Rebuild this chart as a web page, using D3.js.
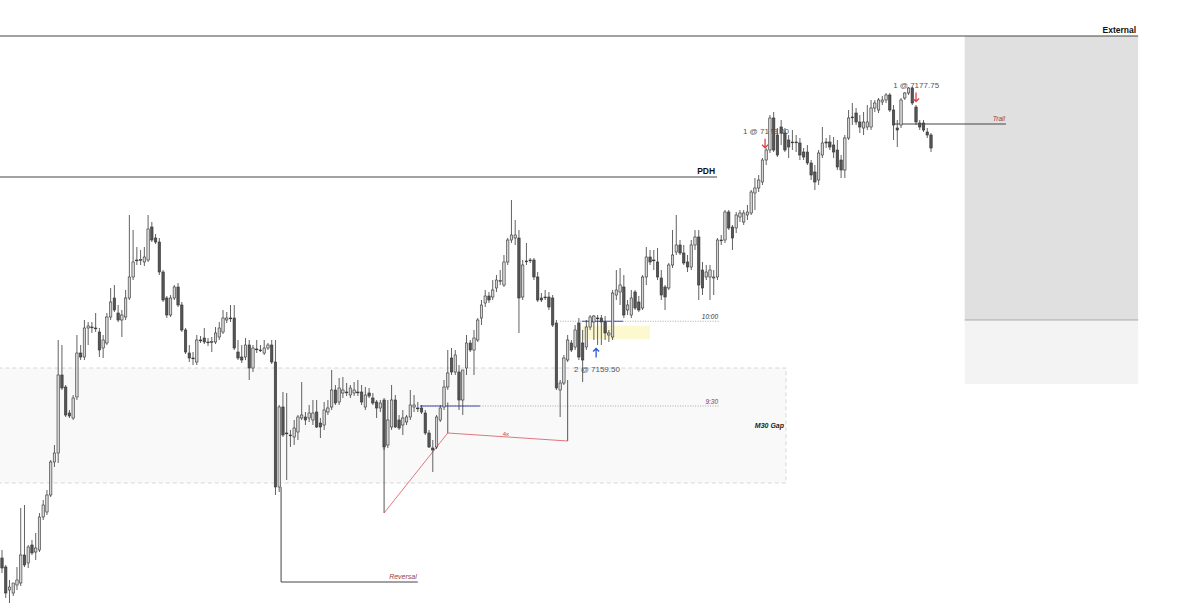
<!DOCTYPE html>
<meta charset="utf-8">
<style>
body { margin: 0; background: #fff; }
text { font-family: "Liberation Sans", Arial, sans-serif; }
</style>
<svg width="1200" height="612"></svg>
<script src="https://d3js.org/d3.v7.min.js"></script>
<script>

// one-minute bars, oldest first
var opens = [7140.56,7139.84,7138.0,7137.76,7138.4,7138.56,7140.8,7140.16,7141.6,7141.04,
7141.2,7143.84,7144.24,7145.6,7148.24,7148.96,7155.2,7154.24,7152.16,7151.76,
7153.44,7156.96,7156.64,7158.96,7159.04,7158.96,7158.64,7157.36,7157.76,7159.84,
7161.36,7160.16,7159.6,7159.84,7161.36,7163.04,7164.4,7164.4,7164.24,7164.4,
7167.04,7166.16,7165.84,7163.44,7161.36,7160.0,7161.36,7162.24,7160.8,7158.8,
7156.96,7156.56,7156.24,7158.0,7158.16,7157.84,7157.84,7157.84,7158.24,7158.64,
7159.6,7159.76,7159.76,7157.04,7156.64,7156.64,7157.6,7155.76,7157.28,7157.2,
7156.96,7157.36,7157.6,7156.24,7146.24,7152.64,7150.56,7150.4,7150.24,7150.64,
7151.76,7151.84,7151.76,7151.6,7152.24,7151.36,7151.2,7152.24,7152.64,7154.0,
7153.04,7153.76,7153.84,7153.6,7153.76,7153.84,7153.84,7152.64,7153.76,7153.36,
7153.04,7152.56,7153.2,7149.6,7151.04,7153.2,7151.6,7151.2,7151.44,7151.84,
7152.64,7152.56,7152.56,7152.16,7150.56,7149.36,7149.44,7151.6,7152.64,7154.24,
7156.56,7155.44,7155.44,7153.2,7155.76,7157.76,7157.2,7158.0,7159.76,7160.96,
7161.52,7161.44,7162.16,7162.72,7162.4,7164.24,7166.0,7166.16,7166.16,7161.44,
7164.32,7164.4,7164.4,7163.04,7161.36,7161.44,7161.44,7161.36,7159.36,7154.0,
7154.56,7156.4,7157.76,7157.44,7159.36,7157.76,7157.44,7159.04,7159.44,7159.76,
7159.76,7159.44,7158.4,7158.24,7161.6,7161.84,7162.24,7160.4,7160.0,7161.84,
7161.04,7160.56,7163.04,7164.64,7164.4,7164.24,7162.96,7162.24,7162.16,7164.0,
7165.04,7165.6,7164.96,7164.24,7163.84,7165.6,7166.24,7163.6,7163.04,7163.04,
7162.96,7163.04,7166.0,7166.0,7168.24,7167.04,7166.96,7167.84,7167.44,7168.0,
7168.16,7169.76,7170.16,7170.64,7172.4,7173.2,7175.76,7174.4,7175.04,7174.56,
7174.0,7173.84,7173.84,7173.76,7173.04,7173.04,7172.16,7171.44,7170.8,7172.8,
7173.84,7173.84,7173.6,7173.2,7172.4,7171.6,7174.16,7175.84,7176.16,7175.44,
7174.96,7175.04,7175.04,7176.56,7176.4,7177.04,7177.2,7177.6,7176.4,7174.96,
7175.2,7177.36,7177.76,7178.16,7176.64,7175.36,7175.36,7174.64,7174.4];

var highs = [7141.2,7140.0,7138.8,7138.4,7139.84,7144.56,7144.8,7141.6,7142.0,7142.56,
7144.16,7145.2,7146.0,7148.4,7149.6,7158.0,7157.6,7154.4,7152.4,7153.6,
7158.4,7157.6,7159.6,7159.44,7159.44,7160.16,7158.96,7158.4,7160.16,7162.16,
7162.4,7160.8,7160.4,7162.0,7168.0,7166.8,7165.44,7165.2,7165.44,7168.0,
7167.44,7166.48,7166.16,7163.6,7161.52,7161.6,7162.4,7162.56,7161.04,7158.96,
7157.6,7157.04,7158.4,7158.32,7158.96,7158.16,7158.24,7159.04,7159.44,7160.4,
7160.24,7160.8,7160.8,7158.0,7157.6,7158.16,7158.0,7157.6,7158.0,7157.6,
7158.0,7157.76,7158.0,7158.0,7152.8,7153.84,7153.76,7150.8,7151.6,7152.0,
7154.64,7152.24,7152.8,7153.2,7153.2,7151.76,7153.04,7153.2,7155.6,7154.4,
7154.96,7155.04,7154.56,7154.4,7154.64,7154.8,7154.4,7154.24,7154.16,7153.76,
7153.2,7153.2,7153.36,7153.2,7154.4,7153.6,7152.0,7152.4,7152.0,7154.0,
7153.6,7153.04,7152.8,7152.4,7150.8,7150.0,7152.0,7152.8,7154.8,7157.2,
7157.36,7157.2,7156.0,7155.6,7158.4,7158.0,7158.8,7159.76,7161.2,7162.0,
7161.84,7162.8,7163.2,7163.6,7164.8,7166.16,7169.2,7167.6,7166.8,7164.4,
7165.76,7164.56,7164.56,7163.44,7161.76,7162.0,7161.84,7161.6,7159.6,7154.8,
7156.8,7158.4,7158.0,7159.2,7159.76,7158.8,7159.6,7160.0,7160.0,7160.0,
7160.0,7159.92,7158.8,7162.0,7163.6,7163.76,7163.2,7161.2,7162.0,7162.0,
7161.52,7163.2,7165.44,7165.2,7165.2,7165.36,7163.6,7162.4,7164.16,7166.8,
7168.0,7166.0,7165.6,7164.8,7166.0,7166.8,7166.8,7164.24,7164.0,7164.0,
7163.6,7166.16,7166.4,7168.4,7168.4,7167.2,7168.24,7168.4,7168.4,7168.8,
7170.0,7170.96,7171.2,7172.56,7173.36,7176.0,7176.24,7174.96,7175.6,7174.96,
7174.4,7174.8,7174.4,7174.16,7173.36,7173.6,7172.4,7172.0,7173.2,7175.04,
7174.16,7174.4,7174.24,7174.0,7172.8,7174.4,7176.4,7176.96,7176.56,7176.0,
7176.24,7176.8,7177.2,7177.2,7177.36,7177.52,7177.76,7177.76,7176.8,7175.6,
7177.36,7177.84,7178.24,7178.24,7176.8,7175.6,7175.6,7174.96,7174.56];

var lows = [7139.36,7137.36,7136.96,7137.52,7138.0,7138.32,7139.84,7139.76,7140.8,7140.4,
7141.04,7143.6,7144.0,7145.44,7147.84,7148.16,7154.0,7151.84,7151.76,7151.6,
7153.2,7156.4,7156.4,7157.6,7158.56,7158.64,7156.64,7156.56,7157.6,7159.6,
7160.24,7159.44,7158.24,7159.6,7161.2,7162.8,7164.0,7164.0,7163.92,7164.24,
7165.84,7165.68,7163.2,7161.04,7159.76,7159.84,7161.2,7160.64,7158.64,7156.88,
7156.24,7156.0,7156.0,7157.76,7157.68,7157.52,7157.04,7157.68,7158.0,7158.48,
7159.36,7159.44,7157.2,7156.4,7156.16,7156.4,7154.8,7155.44,7156.96,7157.04,
7156.8,7157.2,7156.08,7145.6,7145.84,7150.24,7146.8,7149.44,7149.6,7150.0,
7151.6,7151.2,7151.44,7151.2,7150.96,7150.16,7150.8,7152.0,7152.4,7152.8,
7152.8,7153.36,7153.52,7153.36,7153.52,7153.52,7152.8,7152.4,7153.36,7152.8,
7151.76,7152.24,7149.2,7149.36,7150.8,7150.96,7150.8,7150.4,7151.2,7151.6,
7152.24,7152.24,7152.08,7150.4,7149.36,7147.44,7149.28,7151.44,7152.4,7154.0,
7155.2,7155.2,7152.4,7152.0,7155.2,7157.04,7155.2,7157.84,7159.2,7160.64,
7160.96,7161.2,7161.84,7162.4,7162.24,7164.0,7165.76,7165.6,7158.56,7161.2,
7164.0,7164.16,7162.8,7161.04,7161.04,7161.2,7160.4,7159.04,7154.0,7151.84,
7154.4,7156.24,7157.04,7157.2,7156.4,7154.64,7157.2,7158.8,7158.0,7157.6,
7157.6,7158.0,7157.84,7158.0,7161.2,7160.8,7159.76,7160.0,7159.76,7160.4,
7160.24,7160.4,7162.4,7164.0,7163.6,7162.8,7161.2,7160.4,7162.0,7163.76,
7164.8,7164.8,7164.0,7163.44,7163.6,7165.2,7161.2,7161.6,7162.8,7161.2,
7161.6,7162.8,7165.6,7165.76,7166.8,7165.2,7166.56,7167.44,7167.2,7167.6,
7168.0,7168.4,7169.84,7170.4,7172.0,7172.96,7173.04,7172.64,7173.6,7173.04,
7172.56,7173.2,7173.04,7172.4,7172.4,7172.0,7170.8,7170.0,7170.4,7172.56,
7173.36,7173.2,7172.56,7171.6,7170.96,7170.96,7174.0,7175.2,7175.2,7174.56,
7174.4,7174.8,7174.8,7176.24,7176.16,7176.8,7176.96,7176.24,7174.0,7173.44,
7174.96,7177.2,7177.6,7176.8,7175.2,7174.8,7174.64,7174.16,7173.04];

var closes = [7139.76,7137.76,7138.24,7138.56,7138.8,7140.8,7140.0,7141.44,7140.96,7141.36,
7143.84,7144.8,7145.6,7148.24,7148.96,7155.2,7154.16,7152.0,7151.92,7153.36,
7156.96,7156.64,7158.96,7159.12,7159.0,7158.92,7157.2,7158.0,7159.84,7161.04,
7160.4,7159.6,7160.0,7161.36,7163.04,7164.24,7164.36,7164.44,7164.64,7166.88,
7166.0,7165.84,7163.44,7161.2,7160.0,7161.36,7162.24,7160.8,7158.8,7157.04,
7156.56,7156.52,7158.0,7157.96,7157.84,7157.8,7157.88,7158.56,7158.96,7159.76,
7159.76,7159.72,7157.36,7156.56,7156.4,7157.6,7155.76,7157.36,7157.24,7157.16,
7157.36,7157.6,7156.24,7146.24,7152.64,7150.4,7150.52,7150.36,7150.96,7151.84,
7152.0,7151.6,7152.16,7152.16,7151.04,7151.04,7152.4,7152.56,7154.0,7152.96,
7154.16,7154.0,7153.8,7154.16,7154.0,7153.8,7153.04,7153.6,7153.52,7152.96,
7152.56,7152.96,7149.44,7151.6,7153.2,7151.04,7150.96,7151.76,7151.84,7152.8,
7152.8,7152.52,7152.24,7150.56,7149.44,7149.2,7151.84,7152.56,7154.24,7155.36,
7155.44,7156.8,7153.2,7155.6,7157.76,7157.2,7158.16,7159.6,7160.8,7161.52,
7161.2,7162.0,7162.8,7162.76,7164.24,7166.0,7166.4,7166.4,7161.36,7164.0,
7164.28,7164.36,7163.04,7161.2,7161.2,7161.4,7160.64,7159.2,7154.16,7154.56,
7156.56,7158.0,7157.2,7158.8,7156.64,7156.4,7159.04,7159.84,7159.92,7159.72,
7159.44,7158.56,7158.56,7161.76,7162.0,7162.4,7160.0,7160.8,7161.36,7160.56,
7160.4,7163.04,7164.64,7164.24,7164.36,7163.04,7161.6,7161.44,7164.0,7164.8,
7165.6,7164.96,7164.16,7163.84,7165.6,7166.24,7162.4,7162.16,7163.44,7163.6,
7163.04,7166.0,7165.96,7168.24,7166.96,7166.16,7168.0,7168.16,7168.16,7168.24,
7169.84,7170.16,7170.8,7172.4,7173.2,7175.76,7173.2,7172.8,7174.56,7173.2,
7173.44,7173.8,7173.8,7172.8,7172.64,7172.16,7171.2,7170.64,7172.96,7173.76,
7173.76,7173.44,7173.04,7171.84,7171.6,7174.16,7175.76,7175.8,7175.44,7175.04,
7175.44,7175.44,7176.56,7176.96,7177.2,7177.2,7177.6,7176.4,7175.2,7174.8,
7177.2,7177.76,7178.16,7176.96,7175.44,7175.04,7174.8,7174.4,7173.36];

// reference levels (price, first bar, last bar)
var levels = [
  {name: "External", price: 7182.32, from: -1, to: 303.3},
  {name: "PDH", price: 7171.04, from: -1, to: 190.9}
];

// session opens
var sessions = [
  {name: "9:30", price: 7152.72, from: 111.6, to: 191.7, color: "#8a3344", blueTo: 127.6},
  {name: "10:00", price: 7159.5, from: 149, to: 191.7, color: "#333", blueFrom: 154.8, blueTo: 165.8}
];

var gap = {name: "M30 Gap", top: 7155.76, bottom: 7146.56, to: 209.3};
var external = {from: 257, to: 303.3, top: 7182.32, mid: 7159.6, bottom: 7154.48};
var entryZone = {from: 154.8, to: 173, top: 7159.14, bottom: 7158.06};

var reversal = {bar: 74.5, from: 7146.24, price: 7138.64, to: 111};
var swingPts = [[102, 7144.16], [119, 7150.56], [151, 7149.92]];
var swingStems = [[102, 7149.4], [119, 7153.0], [151, 7154.8]];
var trail = {price: 7175.28, from: 237.8, to: 268};

var fills = [
  {label: "2 @ 7159.50", bar: 152.7, price: 7155.44, arrow: 158.6, dir: 1, ap: 7156.6},
  {label: "1 @ 7173.00", bar: 197.8, price: 7174.48, arrow: 203.7, dir: -1, ap: 7174.1},
  {label: "1 @ 7177.75", bar: 237.9, price: 7178.16, arrow: 244, dir: -1, ap: 7177.8}
];

var svg = d3.select("svg");
var n = closes.length;

var x = d3.scaleLinear().domain([0, n - 1]).range([2, 931]);
var y = d3.scaleLinear().domain([7137.2, 7178]).range([600, 90]);

// M30 gap
svg.append("rect")
    .attr("x", x(-1)).attr("y", y(gap.top))
    .attr("width", x(gap.to) - x(-1)).attr("height", y(gap.bottom) - y(gap.top))
    .attr("fill", "#f9f9f9")
    .attr("stroke", "#cfcfcf").attr("stroke-width", 0.8)
    .attr("stroke-dasharray", "4,3");
svg.append("text")
    .attr("x", x(gap.to) - 2).attr("y", y((gap.top + gap.bottom) / 2) + 2)
    .attr("text-anchor", "end")
    .style("font-size", "7px").style("font-weight", "bold").style("font-style", "italic")
    .attr("fill", "#222")
    .text(gap.name);

// external box
svg.append("rect")
    .attr("x", x(external.from)).attr("y", y(external.top))
    .attr("width", x(external.to) - x(external.from)).attr("height", y(external.mid) - y(external.top))
    .attr("fill", "#e0e0e0");
svg.append("rect")
    .attr("x", x(external.from)).attr("y", y(external.mid))
    .attr("width", x(external.to) - x(external.from)).attr("height", y(external.bottom) - y(external.mid))
    .attr("fill", "#f3f3f3");
svg.append("line")
    .attr("x1", x(external.from)).attr("x2", x(external.to))
    .attr("y1", y(external.mid)).attr("y2", y(external.mid))
    .attr("stroke", "#9a9a9a").attr("stroke-width", 0.8);

// entry zone
svg.append("rect")
    .attr("x", x(entryZone.from)).attr("y", y(entryZone.top))
    .attr("width", x(entryZone.to) - x(entryZone.from)).attr("height", y(entryZone.bottom) - y(entryZone.top))
    .attr("fill", "#fcf8cf");

// levels
levels.forEach(function(d) {
  svg.append("line")
      .attr("x1", x(d.from)).attr("x2", x(d.to))
      .attr("y1", y(d.price)).attr("y2", y(d.price))
      .attr("stroke", "#444").attr("stroke-width", 1);
  svg.append("text")
      .attr("x", x(d.to) - 2).attr("y", y(d.price) - 3)
      .attr("text-anchor", "end")
      .style("font-size", "8.5px").style("font-weight", "bold")
      .attr("fill", "#111")
      .text(d.name);
});

// sessions
sessions.forEach(function(d) {
  svg.append("line")
      .attr("x1", x(d.from)).attr("x2", x(d.to))
      .attr("y1", y(d.price)).attr("y2", y(d.price))
      .attr("stroke", "#888").attr("stroke-width", 0.7)
      .attr("stroke-dasharray", "1,1.5");
  svg.append("line")
      .attr("x1", x(d.blueFrom != null ? d.blueFrom : d.from)).attr("x2", x(d.blueTo))
      .attr("y1", y(d.price)).attr("y2", y(d.price))
      .attr("stroke", "#3a4fb0").attr("stroke-width", 1.2);
  svg.append("text")
      .attr("x", x(d.to) - 2).attr("y", y(d.price) - 2)
      .attr("text-anchor", "end")
      .style("font-size", "6.5px").style("font-style", "italic")
      .attr("fill", d.color)
      .text(d.name);
});

// reversal
svg.append("path")
    .attr("d", d3.line()([[x(reversal.bar), y(reversal.from)], [x(reversal.bar), y(reversal.price)], [x(reversal.to), y(reversal.price)]]))
    .attr("fill", "none").attr("stroke", "#444").attr("stroke-width", 1);
svg.append("text")
    .attr("x", x(reversal.to) - 1).attr("y", y(reversal.price) - 3)
    .attr("text-anchor", "end")
    .style("font-size", "7px").style("font-style", "italic")
    .attr("fill", "#9a3a4a")
    .text("Reversal");

// swing
swingPts.forEach(function(p, i) {
  svg.append("line")
      .attr("x1", x(p[0])).attr("x2", x(p[0]))
      .attr("y1", y(swingStems[i][1])).attr("y2", y(p[1]))
      .attr("stroke", "#444").attr("stroke-width", 0.9);
});
svg.append("path")
    .attr("d", d3.line().x(function(d) { return x(d[0]); }).y(function(d) { return y(d[1]); })(swingPts))
    .attr("fill", "none").attr("stroke", "#d9545f").attr("stroke-width", 0.8);
svg.append("text")
    .attr("x", x(134.5)).attr("y", y(7150.3))
    .attr("text-anchor", "middle")
    .style("font-size", "6px")
    .attr("fill", "#c94050")
    .text("4x");

// trail
svg.append("line")
    .attr("x1", x(trail.from)).attr("x2", x(trail.to))
    .attr("y1", y(trail.price)).attr("y2", y(trail.price))
    .attr("stroke", "#444").attr("stroke-width", 1);
svg.append("text")
    .attr("x", x(trail.to) - 1).attr("y", y(trail.price) - 3)
    .attr("text-anchor", "end")
    .style("font-size", "6.5px").style("font-style", "italic")
    .attr("fill", "#9a3a4a")
    .text("Trail");

// fill labels (under the candles)
fills.forEach(function(d) {
  svg.append("text")
      .attr("x", x(d.bar)).attr("y", y(d.price))
      .style("font-size", "8px")
      .attr("fill", "#555")
      .text(d.label);
});

// candles
var bars = d3.range(n).map(function(i) {
  return {i: i, o: opens[i], h: highs[i], l: lows[i], c: closes[i]};
});
var bw = 2.4;
var g = svg.append("g");
var candle = g.selectAll("g").data(bars).enter().append("g");
candle.append("line")
    .attr("x1", function(d) { return x(d.i); })
    .attr("x2", function(d) { return x(d.i); })
    .attr("y1", function(d) { return y(Math.max(d.h, d.o, d.c)); })
    .attr("y2", function(d) { return y(Math.min(d.l, d.o, d.c)); })
    .attr("stroke", "#3a3a3a").attr("stroke-width", 0.8);
candle.append("rect")
    .attr("x", function(d) { return x(d.i) - bw / 2; })
    .attr("y", function(d) { return y(Math.max(d.o, d.c)); })
    .attr("width", bw)
    .attr("height", function(d) { return Math.max(0.8, Math.abs(y(d.o) - y(d.c))); })
    .attr("fill", function(d) { return d.c >= d.o ? "#d4d4d4" : "#555"; })
    .attr("stroke", "#333").attr("stroke-width", 0.6);

// fill arrows
fills.forEach(function(d) {
  var col = d.dir > 0 ? "#2f55d4" : "#e0404a";
  var ax = x(d.arrow), y0 = y(d.ap);
  var tip = y0 - d.dir * 9, base = y0;
  svg.append("path")
      .attr("d", "M" + ax + "," + base + "L" + ax + "," + tip +
                 "M" + (ax - 3) + "," + (tip + d.dir * 3) + "L" + ax + "," + tip + "L" + (ax + 3) + "," + (tip + d.dir * 3))
      .attr("fill", "none").attr("stroke", col).attr("stroke-width", 1.3);
});

</script>
